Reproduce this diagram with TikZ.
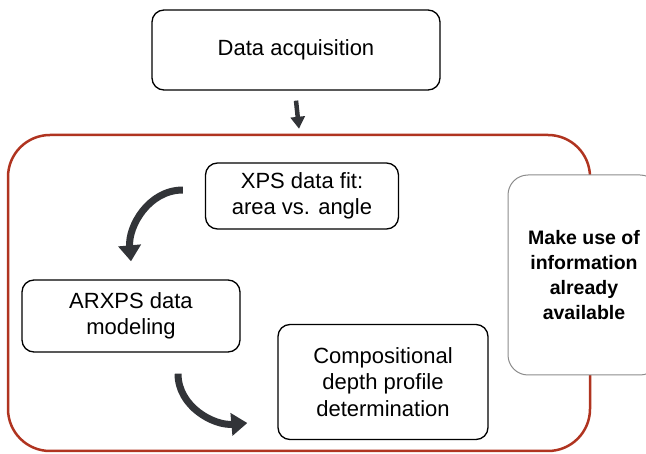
\documentclass[tikz,border=0pt]{standalone}
\usepackage{fontspec}
\setmainfont{Liberation Sans}
\usetikzlibrary{arrows.meta}
\definecolor{framered}{RGB}{176,52,32}
\definecolor{arrowgray}{RGB}{50,52,56}
\begin{document}
\begin{tikzpicture}[x=1pt,y=-1pt,
        box/.style={draw=black, line width=1.3pt, rounded corners=12pt, align=center, inner sep=0pt, font=\fontsize{22}{26.5}\selectfont},
        bendarrow/.style={draw=arrowgray, line width=7pt, -{Triangle[width=22pt,length=16pt]}}]
        \useasboundingbox (0,0) rectangle (646,454);
        \clip (0,0) rectangle (646,454);
        \node[box, minimum width=288pt, minimum height=80pt] (data) at (296,50) {Data acquisition};
        \node[draw=framered, line width=2.5pt, rounded corners=42pt, minimum width=582pt, minimum height=316pt] (frame) at (299,293) {};
        \node[draw=black!45, fill=white, line width=1pt, rounded corners=20pt, minimum width=152pt, minimum height=200pt, align=center, font=\bfseries\fontsize{19.5}{25}\selectfont] (info) at (584,275) {Make use of\\information\\already\\available};
        \node[box, minimum width=193pt, minimum height=66pt] (xps) at (302,196) {XPS data fit:\\area vs. angle};
        \node[box, minimum width=218pt, minimum height=72pt] (arxps) at (131,316) {ARXPS data\\modeling};
        \node[box, minimum width=210pt, minimum height=115pt] (comp) at (383,382) {Compositional\\depth profile\\determination};
        \draw[draw=arrowgray, line width=4.5pt, -{Triangle[width=14pt,length=12pt]}] ([yshift=-10pt]data.south) -- ([yshift=5pt]frame.north);
        \draw[bendarrow] ([xshift=-22pt,yshift=6pt]xps.west) to[out=180,in=95] ([yshift=18pt]arxps.north);
        \draw[bendarrow] ([xshift=47pt,yshift=-21pt]arxps.south) to[out=-90,in=185] ([xshift=-30pt,yshift=-41pt]comp.west);
\end{tikzpicture}
\end{document}
